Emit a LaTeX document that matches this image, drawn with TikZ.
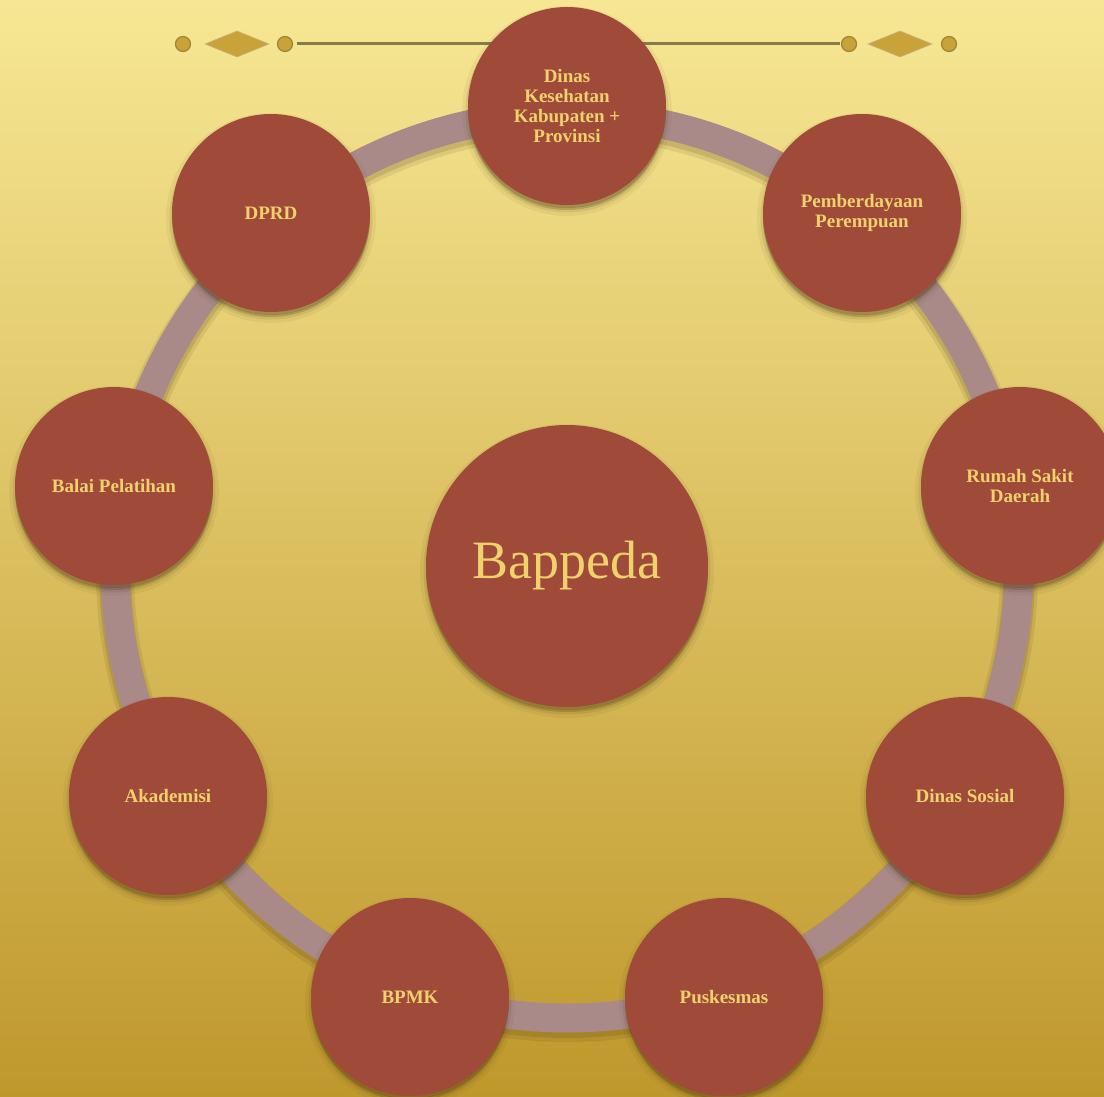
\documentclass[tikz,border=0pt]{standalone}
\usepackage{fontspec}
\setmainfont{Liberation Serif}
\definecolor{bgtop}{HTML}{F7E794}
\definecolor{bgmid}{HTML}{E3C55C}
\definecolor{bgbot}{HTML}{BF982C}
\definecolor{brick}{HTML}{A04B3A}
\definecolor{ringc}{HTML}{A98A89}
\definecolor{txty}{HTML}{F0D26C}
\definecolor{ornline}{HTML}{857C4E}
\definecolor{ornfill}{HTML}{C9A23A}
\definecolor{ornedge}{HTML}{9C8433}
\definecolor{shadowc}{HTML}{4A3510}
\tikzset{
  disc/.style={circle, fill=brick, inner sep=0pt, minimum size=198pt,
    text=txty, align=center,
    font=\fontsize{19}{20}\selectfont\bfseries,
    preaction={fill=shadowc, draw=shadowc, fill opacity=0.10, draw opacity=0.06, line width=12pt, transform canvas={yshift=-5pt}},
    preaction={fill=shadowc, draw=shadowc, fill opacity=0.12, draw opacity=0.10, line width=5pt, transform canvas={yshift=-5pt}},
    preaction={fill=shadowc, fill opacity=0.25, transform canvas={yshift=-3pt}}},
  bigdisc/.style={disc, minimum size=282pt, font=\fontsize{54}{60}\selectfont},
  ornball/.style={circle, fill=ornfill, draw=ornedge, line width=1.2pt, inner sep=0pt, minimum size=15pt},
  ornlozenge/.style={fill=ornfill, draw=ornedge!60, line width=0.6pt}
}
\begin{document}
\begin{tikzpicture}[x=1pt,y=-1pt]
\clip (0,0) rectangle (1104,1097);
\shade[top color=bgtop, middle color=bgmid, bottom color=bgbot] (0,0) rectangle (1104,1097);
% ornament
\draw[ornline, line width=3pt] (297,44) -- (840,44);
\node[ornball] (o1) at (183,44) {};
\node[ornball] (o2) at (285,44) {};
\node[ornball] (o3) at (849,44) {};
\node[ornball] (o4) at (949,44) {};
\fill[ornlozenge] (205,44) -- (237,31) -- (269,44) -- (237,57) -- cycle;
\fill[ornlozenge] (868,44) -- (900,31) -- (932,44) -- (900,57) -- cycle;
% ring
\coordinate (c0) at (567,566);
\draw[shadowc, opacity=0.10, line width=38pt] ([yshift=-5pt]c0) circle[radius=452];
\draw[shadowc, opacity=0.15, line width=32pt] ([yshift=-4pt]c0) circle[radius=452];
\draw[ringc, line width=29pt] (c0) circle[radius=452];
% nodes
\node[bigdisc] (bap) at (567,566) {Bappeda};
\node[disc] (dinkes) at (567,106) {Dinas\\Kesehatan\\Kabupaten +\\Provinsi};
\node[disc] (dprd) at (271,213) {DPRD};
\node[disc] (pp) at (862,213) {Pemberdayaan\\Perempuan};
\node[disc] (balai) at (114,486) {Balai Pelatihan};
\node[disc] (rs) at (1020,486) {Rumah Sakit\\Daerah};
\node[disc] (akad) at (168,796) {Akademisi};
\node[disc] (dinsos) at (965,796) {Dinas Sosial};
\node[disc] (bpmk) at (410,997) {BPMK};
\node[disc] (pusk) at (724,997) {Puskesmas};
\end{tikzpicture}
\end{document}
